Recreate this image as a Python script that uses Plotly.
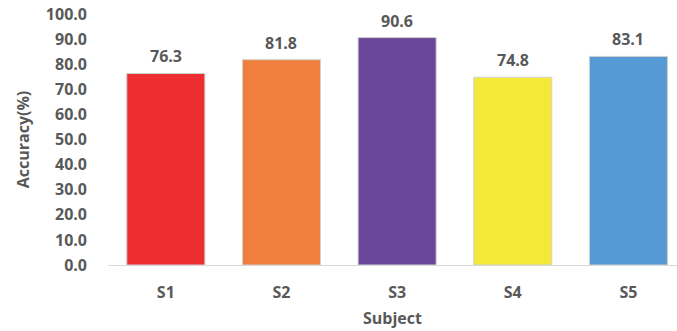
import plotly.graph_objects as go

categories = ["S1", "S2", "S3", "S4", "S5"]
accuracy = [76.3, 81.8, 90.6, 74.8, 83.1]
colors = ["#EE2D30", "#F07F3D", "#6B4799", "#F3E936", "#559AD5"]
y_ticks = [0, 10, 20, 30, 40, 50, 60, 70, 80, 90, 100]

FONT = "Open Sans"
GREY = "#595959"
FS = 16

fig = go.Figure(go.Bar(
    x=categories,
    y=accuracy,
    marker=dict(color=colors, line=dict(color="#d0d0d0", width=1)),
    width=0.675,
    hoverinfo="x+y",
))

for c, v in zip(categories, accuracy):
    fig.add_annotation(
        x=c, y=v, text=f"{v:.1f}", showarrow=False,
        yanchor="bottom", yshift=4,
        font=dict(family=FONT, size=FS, color=GREY, weight="bold"),
    )

fig.update_layout(
    width=677, height=331,
    margin=dict(l=108, r=0, t=14, b=66),
    paper_bgcolor="white", plot_bgcolor="white",
    showlegend=False,
    font=dict(family=FONT, color=GREY),
    xaxis=dict(
        range=[-0.5, 4.42],
        showline=True, linecolor="#d9d9d9", linewidth=1,
        showgrid=False, ticks="",
        tickfont=dict(family=FONT, size=FS, color=GREY, weight="bold"),
        ticklabelstandoff=13,
        title=dict(text="Subject", font=dict(family=FONT, size=FS, color=GREY, weight="bold"), standoff=10),
    ),
    yaxis=dict(
        range=[0, 100],
        tickvals=y_ticks,
        ticktext=[f"{v:.1f}" for v in y_ticks],
        showline=False, showgrid=False, zeroline=False, ticks="",
        tickfont=dict(family=FONT, size=FS, color=GREY, weight="bold"),
        ticklabelstandoff=20,
        title=dict(text="Accuracy(%)", font=dict(family=FONT, size=FS, color=GREY, weight="bold"), standoff=12),
    ),
)

fig.write_html("out.html")
